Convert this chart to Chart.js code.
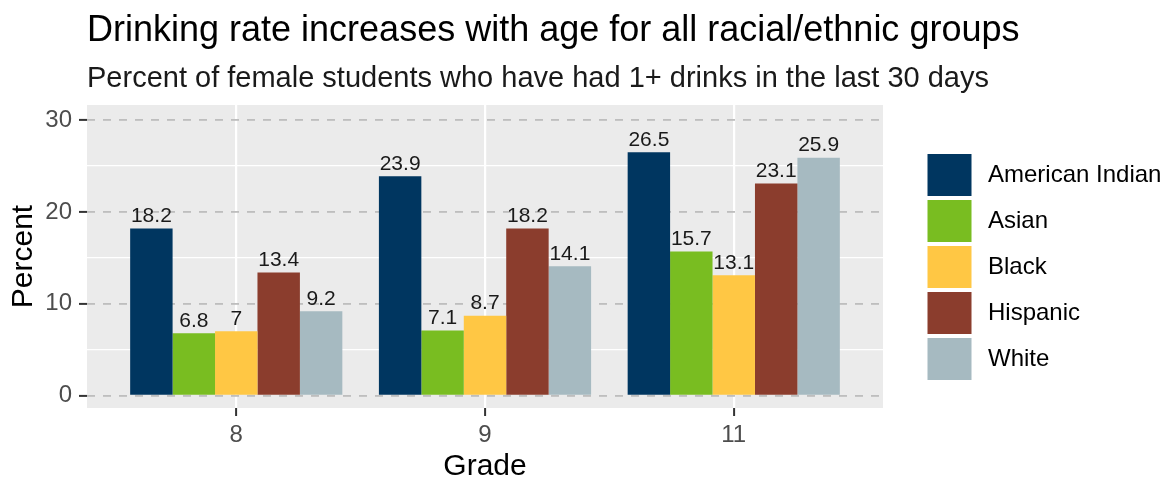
<!DOCTYPE html>
<html><head><meta charset="utf-8">
<script src="https://cdn.jsdelivr.net/npm/chart.js@4"></script>
<style>html,body{margin:0;padding:0;background:#fff}canvas{display:block}</style>
</head><body>
<canvas id="c" width="1169" height="481"></canvas>
<script>
// ---- data ----
const grades = ['8', '9', '11'];
const groups = ['American Indian', 'Asian', 'Black', 'Hispanic', 'White'];
const americanIndian = [18.2, 23.9, 26.5];
const asian = [6.8, 7.1, 15.7];
const black = [7, 8.7, 13.1];
const hispanic = [13.4, 18.2, 23.1];
const white = [9.2, 14.1, 25.9];
const yMajorTicks = [0, 10, 20, 30];
const yMinorTicks = [5, 15, 25];
const titleText = 'Drinking rate increases with age for all racial/ethnic groups';
const subtitleText = 'Percent of female students who have had 1+ drinks in the last 30 days';

// ---- styles ----
const colors = ['#003660', '#79BD21', '#FFC744', '#8B3D2D', '#A6BAC1'];
const FONT = '"Liberation Sans", Arial, Helvetica, sans-serif';
Chart.defaults.font.family = FONT;

const series = [americanIndian, asian, black, hispanic, white];
const xPos = grades.map((g, i) => i + 1);

const datasets = series.map((vals, k) => ({
  label: groups[k],
  data: vals.map((v, i) => ({ x: xPos[i], y: v })),
  backgroundColor: colors[k],
  borderWidth: 0,
  xAxisID: 'x',
  yAxisID: 'y',
  categoryPercentage: 0.853,
  barPercentage: 1.0
}));

const panelBg = {
  id: 'panelBg',
  beforeDraw(chart) {
    const { ctx, chartArea: a } = chart;
    ctx.save();
    ctx.fillStyle = '#EBEBEB';
    ctx.fillRect(a.left, a.top, a.right - a.left, a.bottom - a.top);
    ctx.restore();
  }
};

const titles = {
  id: 'titles',
  afterDraw(chart) {
    const ctx = chart.ctx;
    const x = chart.chartArea.left;
    ctx.save();
    ctx.textAlign = 'left';
    ctx.textBaseline = 'alphabetic';
    ctx.fillStyle = '#000000';
    ctx.font = '36px ' + FONT;
    ctx.fillText(titleText, x, 41);
    ctx.fillStyle = '#1A1A1A';
    ctx.font = '29px ' + FONT;
    ctx.fillText(subtitleText, x, 87);
    ctx.restore();
  }
};

const valueLabels = {
  id: 'valueLabels',
  afterDatasetsDraw(chart) {
    const ctx = chart.ctx;
    ctx.save();
    ctx.font = '21px ' + FONT;
    ctx.fillStyle = '#1A1A1A';
    ctx.textAlign = 'center';
    ctx.textBaseline = 'alphabetic';
    chart.data.datasets.forEach((ds, k) => {
      const meta = chart.getDatasetMeta(k);
      meta.data.forEach((bar, i) => {
        ctx.fillText(String(series[k][i]), bar.x, bar.y - 6.5);
      });
    });
    ctx.restore();
  }
};

const sideLegend = {
  id: 'sideLegend',
  afterDraw(chart) {
    const ctx = chart.ctx;
    const x0 = chart.chartArea.right + 44.5;
    const y0 = 154;
    const keyW = 44, keyH = 42, pitch = 46, gap = 16.5;
    ctx.save();
    ctx.font = '24px ' + FONT;
    ctx.textAlign = 'left';
    ctx.textBaseline = 'middle';
    chart.data.datasets.forEach((ds, k) => {
      const y = y0 + k * pitch;
      ctx.fillStyle = ds.backgroundColor;
      ctx.fillRect(x0, y, keyW, keyH);
      ctx.fillStyle = '#000000';
      ctx.fillText(ds.label, x0 + keyW + gap, y + keyH / 2);
    });
    ctx.restore();
  }
};

new Chart(document.getElementById('c'), {
  type: 'bar',
  data: { datasets },
  plugins: [panelBg, valueLabels, sideLegend, titles],
  options: {
    responsive: false,
    animation: false,
    events: [],
    devicePixelRatio: 1,
    layout: { padding: { left: 0, right: 286, top: 105, bottom: 0 } },
    plugins: {
      legend: { display: false },
      tooltip: { enabled: false },
      title: { display: false },
      subtitle: { display: false }
    },
    scales: {
      y2: {
        type: 'linear', position: 'left', min: -1.35, max: 31.65,
        afterBuildTicks: s => { s.ticks = yMinorTicks.map(v => ({ value: v })); },
        ticks: { display: false },
        grid: { color: '#FFFFFF', lineWidth: 1.2, drawTicks: false },
        border: { display: false },
        afterFit: s => { s.width = 0; }
      },
      x: {
        type: 'linear', position: 'bottom', min: 0.4, max: 3.6,
        offset: false,
        afterBuildTicks: s => { s.ticks = xPos.map(v => ({ value: v })); },
        ticks: {
          callback: (v, i) => grades[i], color: '#4D4D4D', font: { size: 24 },
          padding: 5.2, autoSkip: false, maxRotation: 0
        },
        grid: { offset: false, color: '#FFFFFF', lineWidth: 2.2, tickColor: '#333333', tickWidth: 2, tickLength: 8 },
        border: { display: false },
        title: { display: true, text: 'Grade', color: '#000000', font: { size: 30, lineHeight: 0.95 }, padding: { top: 0, bottom: 0 } },
        afterFit: s => { s.height = 73; }
      },
      y: {
        type: 'linear', position: 'left', min: -1.35, max: 31.65,
        afterBuildTicks: s => { s.ticks = yMajorTicks.map(v => ({ value: v })); },
        ticks: { color: '#4D4D4D', font: { size: 24 }, padding: 7 },
        grid: { color: '#BEBEBE', lineWidth: 1.8, tickColor: '#333333', tickWidth: 2, tickLength: 8 },
        border: { display: false, dash: [8, 8] },
        title: { display: true, text: 'Percent', color: '#000000', font: { size: 30, lineHeight: 1 }, padding: { top: 9, bottom: 0 } },
        afterFit: s => { s.width = 87; }
      }
    }
  }
});
</script>
</body></html>
